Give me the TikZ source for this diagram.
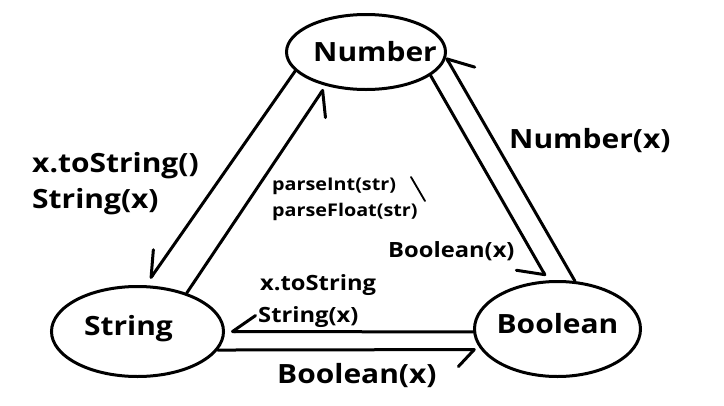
\documentclass[tikz,border=0pt]{standalone}
\usepackage{fontspec}
\setmainfont{Open Sans}[FakeStretch=1.13]
\usetikzlibrary{shapes.geometric,arrows.meta}
\newcommand{\offtxt}[3]{\raisebox{#2}[0pt][0pt]{\makebox[0pt]{\hspace*{#1}#3}}}
\begin{document}
\begin{tikzpicture}[x=1pt,y=-1pt,
  state/.style={ellipse,draw,line width=3pt,inner sep=0pt,font=\fontsize{26.5}{28}\selectfont\bfseries},
  conn/.style={line width=3pt,line cap=round},
  big/.style={inner sep=0pt,anchor=base west,font=\fontsize{26.5}{28}\selectfont\bfseries},
  mid/.style={inner sep=0pt,anchor=base west,font=\fontsize{21}{24}\selectfont\bfseries},
  small/.style={inner sep=0pt,anchor=base west,font=\fontsize{17.5}{19}\selectfont\bfseries},
  barb/.style n args={2}{-{Straight Barb[harpoon,swap,round,length=#1pt,width=#2pt]}}
]
\useasboundingbox (0,0) rectangle (724,405);
\fill[white] (0,0) rectangle (724,405);

\node[state,minimum width=159pt,minimum height=75pt] (num) at (366,52) {\offtxt{18pt}{-9pt}{Number}};
\node[state,minimum width=172pt,minimum height=90pt] (str) at (137.5,331.5) {\offtxt{-18pt}{-3.5pt}{String}};
\node[state,minimum width=166pt,minimum height=95pt] (boo) at (557.5,329) {\offtxt{0pt}{-4pt}{Boolean}};

% Number -> String
\draw[conn,barb={24}{28},shorten >=8pt] (num.195) -- (str.80);
% String -> Number
\draw[conn,barb={21}{35},shorten >=4pt] (str.38.6) -- (num.220);
% Number -> Boolean
\draw[conn,barb={18}{45},shorten >=5pt] (num.-20) -- (boo.101);
% Boolean -> Number
\draw[conn,barb={21}{40}] (boo.70) -- (num.-4);
% Boolean -> String
\draw[conn,barb={23}{32},shorten >=6pt] (boo.182) -- (str.0);
% String -> Boolean
\draw[conn,barb={16}{34},shorten >=5pt] (str.-13.4) -- (boo.195.4);

\node[big] (l1) at (32,172) {x.toString()};
\node[big] (l2) at (32,208) {String(x)};
\node[big] (l3) at (509,148) {Number(x)};
\node[small] (l4) at (272,190) {parseInt(str)};
\node[small] (l5) at (272,216) {parseFloat(str)};
\node[mid] (l6) at (388,257) {Boolean(x)};
\node[mid] (l7) at (260,290) {x.toString};
\node[mid] (l8) at (258,322) {String(x)};
\node[big] (l9) at (277,383) {Boolean(x)};
\draw[line width=1.8pt,line cap=round] (411,177) -- (425,201);
\end{tikzpicture}
\end{document}
